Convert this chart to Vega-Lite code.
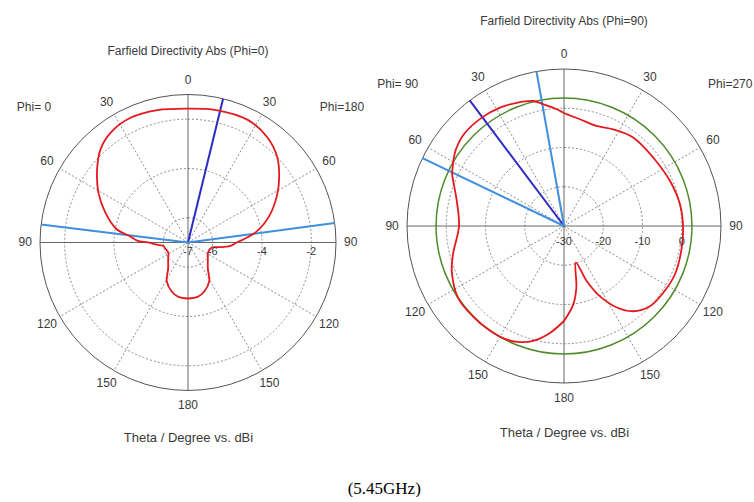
{
  "$schema": "https://vega.github.io/schema/vega-lite/v6.json",
  "padding": {"left": 0, "top": 15, "right": 0, "bottom": 0},
  "background": "white",
  "title": {"text": "(5.45GHz)", "orient": "bottom", "anchor": "middle", "font": "Liberation Serif", "fontSize": 17, "fontWeight": "normal", "color": "#000000", "offset": 37, "dx": 8},
  "spacing": 0,
  "config": {"view": {"stroke": null}, "font": "Liberation Sans"},
  "datasets": {
    "leftRed": [
      {"theta": -180, "dbi": -4.73}, {"theta": -170, "dbi": -4.76}, {"theta": -161, "dbi": -4.92}, {"theta": -151, "dbi": -5.22},
      {"theta": -143, "dbi": -5.66}, {"theta": -130, "dbi": -5.95}, {"theta": -117, "dbi": -6.10}, {"theta": -105, "dbi": -6.05},
      {"theta": -98, "dbi": -5.99}, {"theta": -94, "dbi": -5.74}, {"theta": -90, "dbi": -5.38}, {"theta": -88, "dbi": -4.94},
      {"theta": -84, "dbi": -4.65}, {"theta": -79.5, "dbi": -4.06}, {"theta": -70, "dbi": -3.43}, {"theta": -61, "dbi": -2.85},
      {"theta": -51, "dbi": -2.26}, {"theta": -43, "dbi": -1.81}, {"theta": -35, "dbi": -1.55}, {"theta": -25, "dbi": -1.43},
      {"theta": -13, "dbi": -1.49}, {"theta": 0, "dbi": -1.57}, {"theta": 12, "dbi": -1.51}, {"theta": 26, "dbi": -1.47},
      {"theta": 37, "dbi": -1.66}, {"theta": 46, "dbi": -1.98}, {"theta": 54, "dbi": -2.43}, {"theta": 62, "dbi": -2.91},
      {"theta": 72, "dbi": -3.54}, {"theta": 81, "dbi": -4.19}, {"theta": 87, "dbi": -4.77}, {"theta": 90, "dbi": -5.03},
      {"theta": 95, "dbi": -5.30}, {"theta": 99, "dbi": -5.79}, {"theta": 102, "dbi": -6.02}, {"theta": 117, "dbi": -6.09},
      {"theta": 130, "dbi": -5.95}, {"theta": 143, "dbi": -5.66}, {"theta": 151, "dbi": -5.22}, {"theta": 161, "dbi": -4.92},
      {"theta": 170, "dbi": -4.76}, {"theta": 180, "dbi": -4.73}
    ],
    "rightRed": [
      {"theta": -180, "dbi": -5.8}, {"theta": -172.7, "dbi": -2.61}, {"theta": -165, "dbi": 0.29}, {"theta": -158, "dbi": 1.82},
      {"theta": -152, "dbi": 2.48}, {"theta": -144, "dbi": 2.65}, {"theta": -135, "dbi": 2.7}, {"theta": -124, "dbi": 2.6},
      {"theta": -112, "dbi": 0.83}, {"theta": -104, "dbi": -0.88}, {"theta": -90, "dbi": -3.25}, {"theta": -77, "dbi": -1.98},
      {"theta": -65, "dbi": 1.44}, {"theta": -63, "dbi": 1.9}, {"theta": -60, "dbi": 2.6}, {"theta": -55, "dbi": 3.7},
      {"theta": -47.6, "dbi": 4.6}, {"theta": -37, "dbi": 4.65}, {"theta": -28.4, "dbi": 4.27}, {"theta": -21, "dbi": 3.63},
      {"theta": -13.8, "dbi": 2.79}, {"theta": -9.5, "dbi": 1.44}, {"theta": -3.5, "dbi": -0.2}, {"theta": 0, "dbi": -1.2},
      {"theta": 8.5, "dbi": -2.51}, {"theta": 18, "dbi": -3.2}, {"theta": 27, "dbi": -2.36}, {"theta": 38, "dbi": -1.39},
      {"theta": 52.6, "dbi": -1.36}, {"theta": 67, "dbi": -0.65}, {"theta": 79.4, "dbi": 0.06}, {"theta": 90, "dbi": 0.32},
      {"theta": 100.4, "dbi": 0.5}, {"theta": 113.5, "dbi": 0.83}, {"theta": 124, "dbi": 0.47}, {"theta": 133, "dbi": -0.06},
      {"theta": 141, "dbi": -2.05}, {"theta": 147, "dbi": -5.24}, {"theta": 153, "dbi": -9.95}, {"theta": 157.6, "dbi": -14.84},
      {"theta": 162, "dbi": -20.2}, {"theta": 168.7, "dbi": -13.97}, {"theta": 173.2, "dbi": -9.9}, {"theta": 180, "dbi": -5.8}
    ],
    "angles": [
      {"theta": 0, "t": "0"}, {"theta": 30, "t": "30"}, {"theta": -30, "t": "30"}, {"theta": 60, "t": "60"}, {"theta": -60, "t": "60"},
      {"theta": 90, "t": "90"}, {"theta": -90, "t": "90"}, {"theta": 120, "t": "120"}, {"theta": -120, "t": "120"},
      {"theta": 150, "t": "150"}, {"theta": -150, "t": "150"}, {"theta": 180, "t": "180"}
    ],
    "spokes": [
      {"theta": 30}, {"theta": 60}, {"theta": 120}, {"theta": 150}, {"theta": -30}, {"theta": -60}, {"theta": -120}, {"theta": -150}
    ],
    "axes": [{"theta": 0}, {"theta": 90}, {"theta": 180}, {"theta": -90}]
  },
  "hconcat": [
    {
      "width": 376,
      "height": 392,
      "title": {"text": "Farfield Directivity Abs (Phi=0)", "font": "Liberation Sans", "fontSize": 12, "fontWeight": "normal", "color": "#3a3a3a", "offset": 1, "dy": 30},
      "encoding": {
        "x": {"field": "x", "type": "quantitative", "scale": {"domain": [-7.622, 7.622], "nice": false, "zero": false},
              "axis": {"title": "Theta / Degree vs. dBi", "domain": false, "ticks": false, "labels": false, "grid": false, "titlePadding": 10, "titleFont": "Liberation Sans", "titleFontSize": 13, "titleFontWeight": "normal", "titleColor": "#3a3a3a"}},
        "y": {"field": "y", "type": "quantitative", "scale": {"domain": [-7.237, 8.655], "nice": false, "zero": false}, "axis": null}
      },
      "layer": [
        {
          "data": {"values": [{"dbi": -6}, {"dbi": -4}, {"dbi": -2}]},
          "transform": [{"calculate": "datum.dbi + 7", "as": "r"}, {"calculate": "0", "as": "x"}, {"calculate": "0", "as": "y"}],
          "mark": {"type": "arc", "filled": false, "stroke": "#8c8c8c", "strokeWidth": 1, "strokeDash": [2, 2], "theta": 0, "theta2": 6.2832},
          "encoding": {"radius": {"field": "r", "type": "quantitative", "stack": null, "scale": {"type": "linear", "domain": [0, 6], "range": [0, 148], "nice": false}, "legend": null}}
        },
        {
          "data": {"name": "spokes"},
          "transform": [{"calculate": "0", "as": "x"}, {"calculate": "0", "as": "y"},
                        {"calculate": "6*sin(datum.theta*PI/180)", "as": "x2"}, {"calculate": "6*cos(datum.theta*PI/180)", "as": "y2"}],
          "mark": {"type": "rule", "color": "#8c8c8c", "strokeWidth": 1, "strokeDash": [2, 2]},
          "encoding": {"x2": {"field": "x2"}, "y2": {"field": "y2"}}
        },
        {
          "data": {"name": "axes"},
          "transform": [{"calculate": "0", "as": "x"}, {"calculate": "0", "as": "y"},
                        {"calculate": "6*sin(datum.theta*PI/180)", "as": "x2"}, {"calculate": "6*cos(datum.theta*PI/180)", "as": "y2"}],
          "mark": {"type": "rule", "color": "#666666", "strokeWidth": 1},
          "encoding": {"x2": {"field": "x2"}, "y2": {"field": "y2"}}
        },
        {
          "data": {"values": [{"dbi": -1}]},
          "transform": [{"calculate": "datum.dbi + 7", "as": "r"}, {"calculate": "0", "as": "x"}, {"calculate": "0", "as": "y"}],
          "mark": {"type": "arc", "filled": false, "stroke": "#555555", "strokeWidth": 1, "theta": 0, "theta2": 6.2832},
          "encoding": {"radius": {"field": "r", "type": "quantitative", "stack": null, "scale": {"type": "linear", "domain": [0, 6], "range": [0, 148], "nice": false}, "legend": null}}
        },
        {
          "data": {"values": [{"theta": 13.7, "kind": "main"}, {"theta": -83, "kind": "bw"}, {"theta": 82.4, "kind": "bw"}]},
          "transform": [{"calculate": "0", "as": "x"}, {"calculate": "0", "as": "y"},
                        {"calculate": "6*sin(datum.theta*PI/180)", "as": "x2"}, {"calculate": "6*cos(datum.theta*PI/180)", "as": "y2"}],
          "mark": {"type": "rule", "strokeWidth": 2},
          "encoding": {"x2": {"field": "x2"}, "y2": {"field": "y2"},
                       "color": {"field": "kind", "type": "nominal", "scale": {"domain": ["main", "bw"], "range": ["#2b2bc4", "#3f8fdf"]}, "legend": null}}
        },
        {
          "data": {"name": "leftRed"},
          "transform": [{"calculate": "datum.dbi + 7", "as": "r"},
                        {"calculate": "datum.r*sin(datum.theta*PI/180)", "as": "x"}, {"calculate": "datum.r*cos(datum.theta*PI/180)", "as": "y"}],
          "mark": {"type": "line", "color": "#e3191e", "strokeWidth": 1.8, "strokeJoin": "round", "interpolate": "catmull-rom"},
          "encoding": {"order": {"field": "theta", "type": "quantitative"}}
        },
        {
          "data": {"name": "angles"},
          "transform": [{"calculate": "6.6*sin(datum.theta*PI/180)", "as": "x"}, {"calculate": "6.6*cos(datum.theta*PI/180)", "as": "y"}],
          "mark": {"type": "text", "fontSize": 12, "font": "Liberation Sans", "color": "#3a3a3a", "align": "center", "baseline": "middle"},
          "encoding": {"text": {"field": "t", "type": "nominal"}}
        },
        {
          "data": {"values": [{"t": "Phi= 0", "theta": -48.7}, {"t": "Phi=180", "theta": 48.7}]},
          "transform": [{"calculate": "8.31*sin(datum.theta*PI/180)", "as": "x"}, {"calculate": "8.31*cos(datum.theta*PI/180)", "as": "y"}],
          "mark": {"type": "text", "fontSize": 12, "font": "Liberation Sans", "color": "#3a3a3a", "align": "center", "baseline": "middle"},
          "encoding": {"text": {"field": "t", "type": "nominal"}}
        },
        {
          "data": {"values": [{"dbi": -7}, {"dbi": -6}, {"dbi": -4}, {"dbi": -2}]},
          "transform": [{"calculate": "datum.dbi + 7", "as": "x"}, {"calculate": "0", "as": "y"}],
          "mark": {"type": "text", "fontSize": 11, "font": "Liberation Sans", "color": "#3a3a3a", "align": "center", "baseline": "middle", "dy": 10},
          "encoding": {"text": {"field": "dbi", "type": "nominal"}}
        }
      ]
    },
    {
      "width": 376,
      "height": 392,
      "title": {"text": "Farfield Directivity Abs (Phi=90)", "font": "Liberation Sans", "fontSize": 12, "fontWeight": "normal", "color": "#3a3a3a", "offset": 1},
      "encoding": {
        "x": {"field": "x", "type": "quantitative", "scale": {"domain": [-47.898, 47.898], "nice": false, "zero": false},
              "axis": {"title": "Theta / Degree vs. dBi", "domain": false, "ticks": false, "labels": false, "grid": false, "titlePadding": 5, "titleFont": "Liberation Sans", "titleFontSize": 13, "titleFontWeight": "normal", "titleColor": "#3a3a3a"}},
        "y": {"field": "y", "type": "quantitative", "scale": {"domain": [-49.68, 50.19], "nice": false, "zero": false}, "axis": null}
      },
      "layer": [
        {
          "data": {"values": [{"dbi": -20}, {"dbi": -10}, {"dbi": 0}]},
          "transform": [{"calculate": "datum.dbi + 30", "as": "r"}, {"calculate": "0", "as": "x"}, {"calculate": "0", "as": "y"}],
          "mark": {"type": "arc", "filled": false, "stroke": "#8c8c8c", "strokeWidth": 1, "strokeDash": [2, 2], "theta": 0, "theta2": 6.2832},
          "encoding": {"radius": {"field": "r", "type": "quantitative", "stack": null, "scale": {"type": "linear", "domain": [0, 40], "range": [0, 157], "nice": false}, "legend": null}}
        },
        {
          "data": {"name": "spokes"},
          "transform": [{"calculate": "0", "as": "x"}, {"calculate": "0", "as": "y"},
                        {"calculate": "40*sin(datum.theta*PI/180)", "as": "x2"}, {"calculate": "40*cos(datum.theta*PI/180)", "as": "y2"}],
          "mark": {"type": "rule", "color": "#8c8c8c", "strokeWidth": 1, "strokeDash": [2, 2]},
          "encoding": {"x2": {"field": "x2"}, "y2": {"field": "y2"}}
        },
        {
          "data": {"name": "axes"},
          "transform": [{"calculate": "0", "as": "x"}, {"calculate": "0", "as": "y"},
                        {"calculate": "40*sin(datum.theta*PI/180)", "as": "x2"}, {"calculate": "40*cos(datum.theta*PI/180)", "as": "y2"}],
          "mark": {"type": "rule", "color": "#666666", "strokeWidth": 1},
          "encoding": {"x2": {"field": "x2"}, "y2": {"field": "y2"}}
        },
        {
          "data": {"values": [{"dbi": 10}]},
          "transform": [{"calculate": "datum.dbi + 30", "as": "r"}, {"calculate": "0", "as": "x"}, {"calculate": "0", "as": "y"}],
          "mark": {"type": "arc", "filled": false, "stroke": "#555555", "strokeWidth": 1, "theta": 0, "theta2": 6.2832},
          "encoding": {"radius": {"field": "r", "type": "quantitative", "stack": null, "scale": {"type": "linear", "domain": [0, 40], "range": [0, 157], "nice": false}, "legend": null}}
        },
        {
          "data": {"values": [{"dbi": 2.6}]},
          "transform": [{"calculate": "datum.dbi + 30", "as": "r"}, {"calculate": "0", "as": "x"}, {"calculate": "0", "as": "y"}],
          "mark": {"type": "arc", "filled": false, "stroke": "#4f8a2c", "strokeWidth": 1.5, "theta": 0, "theta2": 6.2832},
          "encoding": {"radius": {"field": "r", "type": "quantitative", "stack": null, "scale": {"type": "linear", "domain": [0, 40], "range": [0, 157], "nice": false}, "legend": null}}
        },
        {
          "data": {"values": [{"theta": -36.9, "kind": "main"}, {"theta": -10.1, "kind": "bw"}, {"theta": -64.4, "kind": "bw"}]},
          "transform": [{"calculate": "0", "as": "x"}, {"calculate": "0", "as": "y"},
                        {"calculate": "40*sin(datum.theta*PI/180)", "as": "x2"}, {"calculate": "40*cos(datum.theta*PI/180)", "as": "y2"}],
          "mark": {"type": "rule", "strokeWidth": 2},
          "encoding": {"x2": {"field": "x2"}, "y2": {"field": "y2"},
                       "color": {"field": "kind", "type": "nominal", "scale": {"domain": ["main", "bw"], "range": ["#2b2bc4", "#3f8fdf"]}, "legend": null}}
        },
        {
          "data": {"name": "rightRed"},
          "transform": [{"calculate": "datum.dbi + 30", "as": "r"},
                        {"calculate": "datum.r*sin(datum.theta*PI/180)", "as": "x"}, {"calculate": "datum.r*cos(datum.theta*PI/180)", "as": "y"}],
          "mark": {"type": "line", "color": "#e3191e", "strokeWidth": 1.8, "strokeJoin": "round", "interpolate": "catmull-rom"},
          "encoding": {"order": {"field": "theta", "type": "quantitative"}}
        },
        {
          "data": {"name": "angles"},
          "transform": [{"calculate": "43.8*sin(datum.theta*PI/180)", "as": "x"}, {"calculate": "43.8*cos(datum.theta*PI/180)", "as": "y"}],
          "mark": {"type": "text", "fontSize": 12, "font": "Liberation Sans", "color": "#3a3a3a", "align": "center", "baseline": "middle"},
          "encoding": {"text": {"field": "t", "type": "nominal"}}
        },
        {
          "data": {"values": [{"t": "Phi= 90", "theta": -49.5}, {"t": "Phi=270", "theta": 49.5}]},
          "transform": [{"calculate": "55.7*sin(datum.theta*PI/180)", "as": "x"}, {"calculate": "55.7*cos(datum.theta*PI/180)", "as": "y"}],
          "mark": {"type": "text", "fontSize": 12, "font": "Liberation Sans", "color": "#3a3a3a", "align": "center", "baseline": "middle"},
          "encoding": {"text": {"field": "t", "type": "nominal"}}
        },
        {
          "data": {"values": [{"dbi": -30}, {"dbi": -20}, {"dbi": -10}, {"dbi": 0}]},
          "transform": [{"calculate": "datum.dbi + 30", "as": "x"}, {"calculate": "0", "as": "y"}],
          "mark": {"type": "text", "fontSize": 11, "font": "Liberation Sans", "color": "#3a3a3a", "align": "center", "baseline": "middle", "dy": 16},
          "encoding": {"text": {"field": "dbi", "type": "nominal"}}
        }
      ]
    }
  ]
}
